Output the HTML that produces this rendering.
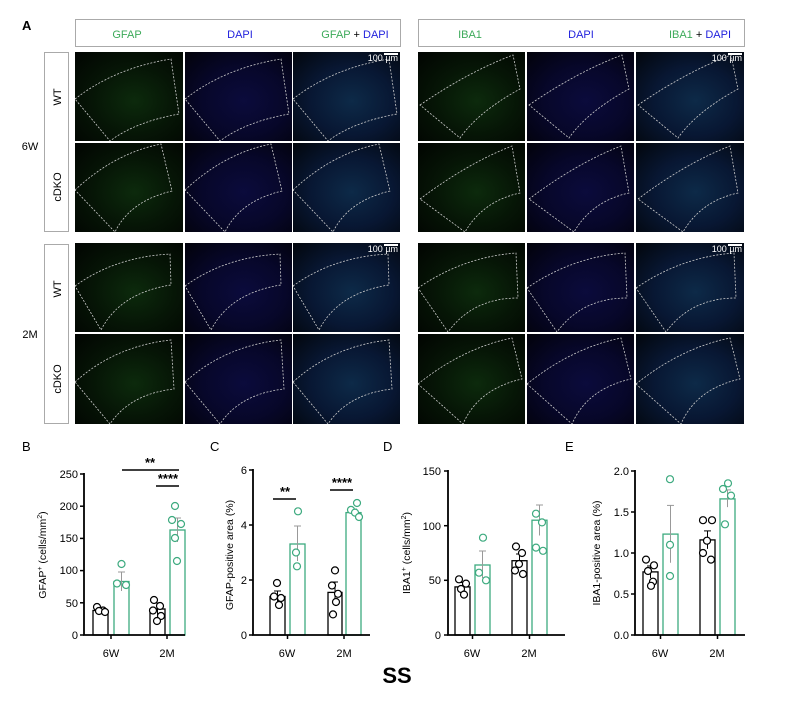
<!DOCTYPE html>
<html><head><meta charset="utf-8"><style>
body{margin:0;background:#fff;width:799px;height:703px;overflow:hidden;font-family:"Liberation Sans",sans-serif;position:relative}
.c{position:absolute;overflow:hidden}
.g{background:radial-gradient(ellipse at 55% 55%,#0c2a0c 0%,#061506 50%,#010401 100%)}
.b{background:radial-gradient(ellipse at 55% 55%,#0b0b3c 0%,#07072a 50%,#02020a 100%)}
.m{background:radial-gradient(ellipse at 55% 55%,#0d2a48 0%,#081733 50%,#02060c 100%)}
.c svg{position:absolute;left:0;top:0}
.sb{position:absolute;color:#fff;font-size:9px;right:2px;top:1px}
.sb:before{content:"";position:absolute;right:0;top:0;width:14px;height:2px;background:#fff}
</style></head><body>
<svg width="799" height="703" style="position:absolute;left:0;top:0" font-family="Liberation Sans, sans-serif">
<text x="22" y="30" font-size="13" font-weight="bold">A</text>
<rect x="75.5" y="19.5" width="325" height="27" fill="none" stroke="#aaa"/>
<rect x="418.5" y="19.5" width="326" height="27" fill="none" stroke="#aaa"/>
<text x="127" y="38" font-size="11" fill="#3daa5a" text-anchor="middle">GFAP</text>
<text x="240" y="38" font-size="11" fill="#2222dd" text-anchor="middle">DAPI</text>
<text x="355" y="38" font-size="11" text-anchor="middle"><tspan fill="#3daa5a">GFAP</tspan> + <tspan fill="#2222dd">DAPI</tspan></text>
<text x="470" y="38" font-size="11" fill="#3daa5a" text-anchor="middle">IBA1</text>
<text x="581" y="38" font-size="11" fill="#2222dd" text-anchor="middle">DAPI</text>
<text x="700" y="38" font-size="11" text-anchor="middle"><tspan fill="#3daa5a">IBA1</tspan> + <tspan fill="#2222dd">DAPI</tspan></text>
<rect x="44.5" y="52.5" width="24" height="179" fill="none" stroke="#aaa"/>
<rect x="44.5" y="244.5" width="24" height="179" fill="none" stroke="#aaa"/>
<text x="30" y="150" font-size="11" text-anchor="middle">6W</text>
<text x="30" y="338" font-size="11" text-anchor="middle">2M</text>
<text transform="translate(61,97) rotate(-90)" font-size="11" text-anchor="middle">WT</text>
<text transform="translate(61,187) rotate(-90)" font-size="11" text-anchor="middle">cDKO</text>
<text transform="translate(61,289) rotate(-90)" font-size="11" text-anchor="middle">WT</text>
<text transform="translate(61,379) rotate(-90)" font-size="11" text-anchor="middle">cDKO</text>

<g font-size="11">
<text x="22" y="451" font-size="13">B</text>
<text x="210" y="451" font-size="13">C</text>
<text x="383" y="451" font-size="13">D</text>
<text x="565" y="451" font-size="13">E</text>
</g>

<!-- B -->
<g font-size="11" stroke-linecap="butt">
<g fill="none" stroke="#000" stroke-width="1.3">
<rect x="93" y="610.5" width="15" height="24.5"/><rect x="150" y="609" width="15" height="26"/>
</g>
<g fill="none" stroke="#3daa7f" stroke-width="1.3">
<rect x="114" y="581.5" width="15" height="53.5"/><rect x="170" y="530" width="15" height="105"/>
</g>
<g stroke="#000" stroke-width="1"><line x1="100.5" y1="608" x2="100.5" y2="613"/><line x1="97" y1="608" x2="104" y2="608"/>
<line x1="157.5" y1="603" x2="157.5" y2="615"/><line x1="154" y1="603" x2="161" y2="603"/></g>
<g stroke="#999" stroke-width="1"><line x1="121.5" y1="572" x2="121.5" y2="591"/><line x1="118" y1="572" x2="125" y2="572"/>
<line x1="177.5" y1="518" x2="177.5" y2="542"/><line x1="174" y1="518" x2="181" y2="518"/></g>
<g fill="#fff" stroke="#000" stroke-width="1.2">
<circle cx="97" cy="607" r="3.5"/><circle cx="103" cy="610.5" r="3.5"/><circle cx="99" cy="611" r="3.5"/><circle cx="105" cy="612" r="3.5"/>
<circle cx="154" cy="600" r="3.5"/><circle cx="160" cy="606" r="3.5"/><circle cx="153" cy="610.5" r="3.5"/><circle cx="161" cy="616" r="3.5"/><circle cx="157" cy="621" r="3.5"/>
</g>
<g fill="#fff" stroke="#3daa7f" stroke-width="1.2">
<circle cx="121.5" cy="564" r="3.5"/><circle cx="117" cy="583.5" r="3.5"/><circle cx="126" cy="585" r="3.5"/>
<circle cx="175" cy="506" r="3.5"/><circle cx="172" cy="520" r="3.5"/><circle cx="181" cy="524" r="3.5"/><circle cx="175" cy="538" r="3.5"/><circle cx="177" cy="561" r="3.5"/>
</g>
<path d="M84,473 V635 H185" fill="none" stroke="#000" stroke-width="1.8"/>
<g stroke="#000" stroke-width="1.5"><line x1="80" y1="474" x2="84" y2="474"/><line x1="80" y1="506.2" x2="84" y2="506.2"/><line x1="80" y1="538.4" x2="84" y2="538.4"/><line x1="80" y1="570.6" x2="84" y2="570.6"/><line x1="80" y1="602.8" x2="84" y2="602.8"/><line x1="80" y1="635" x2="84" y2="635"/>
<line x1="111" y1="635" x2="111" y2="639"/><line x1="167" y1="635" x2="167" y2="639"/></g>
<g text-anchor="end"><text x="78" y="478">250</text><text x="78" y="510">200</text><text x="78" y="542">150</text><text x="78" y="574">100</text><text x="78" y="607">50</text><text x="78" y="639">0</text></g>
<text x="111" y="657" text-anchor="middle">6W</text><text x="167" y="657" text-anchor="middle">2M</text>
<text transform="translate(46,555) rotate(-90)" text-anchor="middle" font-size="10.5">GFAP<tspan dy="-4" font-size="7">+</tspan><tspan dy="4"> (cells/mm</tspan><tspan dy="-4" font-size="7">2</tspan><tspan dy="4">)</tspan></text>
<g stroke="#000" stroke-width="1.6"><line x1="122" y1="470" x2="179" y2="470"/><line x1="156" y1="486" x2="179" y2="486"/></g>
<text x="150" y="467" text-anchor="middle" font-size="13" font-weight="bold">**</text>
<text x="168" y="483" text-anchor="middle" font-size="13" font-weight="bold">****</text>
</g>

<!-- C -->
<g font-size="11">
<g fill="none" stroke="#000" stroke-width="1.3"><rect x="270" y="596.5" width="15" height="38.5"/><rect x="328" y="592.4" width="14" height="42.6"/></g>
<g fill="none" stroke="#3daa7f" stroke-width="1.3"><rect x="290" y="544" width="15" height="91"/><rect x="346" y="512.6" width="15" height="122.4"/></g>
<g stroke="#000"><line x1="277.5" y1="591" x2="277.5" y2="602"/><line x1="274" y1="591" x2="281" y2="591"/><line x1="335" y1="582" x2="335" y2="603"/><line x1="331" y1="582" x2="338" y2="582"/></g>
<g stroke="#999"><line x1="297.5" y1="526" x2="297.5" y2="561"/><line x1="294" y1="526" x2="301" y2="526"/><line x1="353.5" y1="509" x2="353.5" y2="516"/><line x1="350" y1="509" x2="357" y2="509"/></g>
<g fill="#fff" stroke="#000" stroke-width="1.2"><circle cx="277" cy="583" r="3.5"/><circle cx="274" cy="596.5" r="3.5"/><circle cx="281" cy="598" r="3.5"/><circle cx="279" cy="605" r="3.5"/>
<circle cx="335" cy="570.4" r="3.5"/><circle cx="332" cy="585.5" r="3.5"/><circle cx="338" cy="593.8" r="3.5"/><circle cx="336" cy="602" r="3.5"/><circle cx="333" cy="614.4" r="3.5"/></g>
<g fill="#fff" stroke="#3daa7f" stroke-width="1.2"><circle cx="298" cy="511.3" r="3.5"/><circle cx="296" cy="552.5" r="3.5"/><circle cx="297" cy="566.3" r="3.5"/>
<circle cx="357" cy="503" r="3.5"/><circle cx="351" cy="509.9" r="3.5"/><circle cx="355" cy="512.6" r="3.5"/><circle cx="359" cy="517" r="3.5"/></g>
<path d="M253,469 V635 H370" fill="none" stroke="#000" stroke-width="1.8"/>
<g stroke="#000" stroke-width="1.5"><line x1="249" y1="470" x2="253" y2="470"/><line x1="249" y1="525" x2="253" y2="525"/><line x1="249" y1="580" x2="253" y2="580"/><line x1="249" y1="635" x2="253" y2="635"/><line x1="287.5" y1="635" x2="287.5" y2="639"/><line x1="344" y1="635" x2="344" y2="639"/></g>
<g text-anchor="end"><text x="247" y="474">6</text><text x="247" y="529">4</text><text x="247" y="584">2</text><text x="247" y="639">0</text></g>
<text x="287" y="657" text-anchor="middle">6W</text><text x="344" y="657" text-anchor="middle">2M</text>
<text transform="translate(233,555) rotate(-90)" text-anchor="middle" font-size="10.5">GFAP-positive area (%)</text>
<g stroke="#000" stroke-width="1.6"><line x1="273" y1="499" x2="296" y2="499"/><line x1="330" y1="490" x2="353" y2="490"/></g>
<text x="285" y="496" text-anchor="middle" font-size="13" font-weight="bold">**</text>
<text x="342" y="487" text-anchor="middle" font-size="13" font-weight="bold">****</text>
</g>

<!-- D -->
<g font-size="11">
<g fill="none" stroke="#000" stroke-width="1.3"><rect x="455" y="586.9" width="15" height="48.1"/><rect x="512" y="560.7" width="15" height="74.3"/></g>
<g fill="none" stroke="#3daa7f" stroke-width="1.3"><rect x="475" y="565" width="15" height="70"/><rect x="532" y="520.2" width="15" height="114.8"/></g>
<g stroke="#000"><line x1="462.5" y1="582.5" x2="462.5" y2="591"/><line x1="459" y1="582.5" x2="466" y2="582.5"/><line x1="519.5" y1="554" x2="519.5" y2="567"/><line x1="516" y1="554" x2="523" y2="554"/></g>
<g stroke="#999"><line x1="482.5" y1="551" x2="482.5" y2="578"/><line x1="479" y1="551" x2="486" y2="551"/><line x1="539.5" y1="505" x2="539.5" y2="535.5"/><line x1="536" y1="505" x2="543" y2="505"/></g>
<g fill="#fff" stroke="#000" stroke-width="1.2"><circle cx="459" cy="579.3" r="3.5"/><circle cx="466" cy="583.6" r="3.5"/><circle cx="461" cy="589" r="3.5"/><circle cx="464" cy="594.6" r="3.5"/>
<circle cx="516" cy="546.5" r="3.5"/><circle cx="522" cy="553" r="3.5"/><circle cx="519" cy="564" r="3.5"/><circle cx="515" cy="570.5" r="3.5"/><circle cx="523" cy="574" r="3.5"/></g>
<g fill="#fff" stroke="#3daa7f" stroke-width="1.2"><circle cx="483" cy="537.7" r="3.5"/><circle cx="479" cy="572.7" r="3.5"/><circle cx="486" cy="580.3" r="3.5"/>
<circle cx="536" cy="513.7" r="3.5"/><circle cx="542" cy="522.4" r="3.5"/><circle cx="536" cy="547.6" r="3.5"/><circle cx="543" cy="550.8" r="3.5"/></g>
<path d="M448,470 V635 H565" fill="none" stroke="#000" stroke-width="1.8"/>
<g stroke="#000" stroke-width="1.5"><line x1="444" y1="471" x2="448" y2="471"/><line x1="444" y1="525.7" x2="448" y2="525.7"/><line x1="444" y1="580.3" x2="448" y2="580.3"/><line x1="444" y1="635" x2="448" y2="635"/><line x1="472.5" y1="635" x2="472.5" y2="639"/><line x1="529.5" y1="635" x2="529.5" y2="639"/></g>
<g text-anchor="end"><text x="441" y="475">150</text><text x="441" y="530">100</text><text x="441" y="584">50</text><text x="441" y="639">0</text></g>
<text x="472" y="657" text-anchor="middle">6W</text><text x="529" y="657" text-anchor="middle">2M</text>
<text transform="translate(410,553) rotate(-90)" text-anchor="middle" font-size="10.5">IBA1<tspan dy="-4" font-size="7">+</tspan><tspan dy="4"> (cells/mm</tspan><tspan dy="-4" font-size="7">2</tspan><tspan dy="4">)</tspan></text>
</g>

<!-- E -->
<g font-size="11">
<g fill="none" stroke="#000" stroke-width="1.3"><rect x="643" y="571.9" width="15" height="63.1"/><rect x="700" y="539.9" width="15" height="95.1"/></g>
<g fill="none" stroke="#3daa7f" stroke-width="1.3"><rect x="663" y="534.1" width="15" height="100.9"/><rect x="720" y="498.9" width="15" height="136.1"/></g>
<g stroke="#000"><line x1="650.5" y1="566" x2="650.5" y2="578"/><line x1="647" y1="566" x2="654" y2="566"/><line x1="707.5" y1="530.9" x2="707.5" y2="548.9"/><line x1="704" y1="530.9" x2="711" y2="530.9"/></g>
<g stroke="#999"><line x1="670.5" y1="505.4" x2="670.5" y2="562.8"/><line x1="667" y1="505.4" x2="674" y2="505.4"/><line x1="727.5" y1="489.9" x2="727.5" y2="507.1"/><line x1="724" y1="489.9" x2="731" y2="489.9"/></g>
<g fill="#fff" stroke="#000" stroke-width="1.2"><circle cx="646" cy="559.6" r="3.5"/><circle cx="654" cy="565.3" r="3.5"/><circle cx="648" cy="571" r="3.5"/><circle cx="653" cy="581.7" r="3.5"/><circle cx="651" cy="585.8" r="3.5"/>
<circle cx="703" cy="520.2" r="3.5"/><circle cx="712" cy="520.2" r="3.5"/><circle cx="707" cy="540.7" r="3.5"/><circle cx="703" cy="553" r="3.5"/><circle cx="711" cy="559.6" r="3.5"/></g>
<g fill="#fff" stroke="#3daa7f" stroke-width="1.2"><circle cx="670" cy="479.2" r="3.5"/><circle cx="670" cy="544.8" r="3.5"/><circle cx="670" cy="576" r="3.5"/>
<circle cx="728" cy="483.3" r="3.5"/><circle cx="723" cy="489" r="3.5"/><circle cx="731" cy="495.6" r="3.5"/><circle cx="725" cy="524.3" r="3.5"/></g>
<path d="M635,470 V635 H745" fill="none" stroke="#000" stroke-width="1.8"/>
<g stroke="#000" stroke-width="1.5"><line x1="631" y1="471" x2="635" y2="471"/><line x1="631" y1="512" x2="635" y2="512"/><line x1="631" y1="553" x2="635" y2="553"/><line x1="631" y1="594" x2="635" y2="594"/><line x1="631" y1="635" x2="635" y2="635"/><line x1="660.5" y1="635" x2="660.5" y2="639"/><line x1="717.5" y1="635" x2="717.5" y2="639"/></g>
<g text-anchor="end"><text x="629" y="475">2.0</text><text x="629" y="516">1.5</text><text x="629" y="557">1.0</text><text x="629" y="598">0.5</text><text x="629" y="639">0.0</text></g>
<text x="660" y="657" text-anchor="middle">6W</text><text x="717" y="657" text-anchor="middle">2M</text>
<text transform="translate(600,553) rotate(-90)" text-anchor="middle" font-size="10.5">IBA1-positive area (%)</text>
</g>
<text x="397" y="683" font-size="22" font-weight="bold" text-anchor="middle">SS</text>
</svg>

<!-- image cells -->
<div class="c g" style="left:75px;top:52px;width:108px;height:89px"><svg width="108" height="89"><path d="M0,47 Q40,16 96,7 L104,62 Q60,70 35,89 Z" fill="none" stroke="#ccc" stroke-width=".8" stroke-dasharray="2,1.5"/></svg></div>
<div class="c b" style="left:185px;top:52px;width:107px;height:89px"><svg width="107" height="89"><path d="M0,47 Q40,16 96,7 L104,62 Q60,70 35,89 Z" fill="none" stroke="#ccc" stroke-width=".8" stroke-dasharray="2,1.5"/></svg></div>
<div class="c m" style="left:293px;top:52px;width:107px;height:89px"><svg width="107" height="89"><path d="M0,47 Q40,16 96,7 L104,62 Q60,70 35,89 Z" fill="none" stroke="#ccc" stroke-width=".8" stroke-dasharray="2,1.5"/></svg><span class="sb">100 µm</span></div>
<div class="c g" style="left:75px;top:143px;width:108px;height:89px"><svg width="108" height="89"><path d="M0,47 Q40,10 86,1 L97,48 Q55,58 40,89 Z" fill="none" stroke="#ccc" stroke-width=".8" stroke-dasharray="2,1.5"/></svg></div>
<div class="c b" style="left:185px;top:143px;width:107px;height:89px"><svg width="107" height="89"><path d="M0,47 Q40,10 86,1 L97,48 Q55,58 40,89 Z" fill="none" stroke="#ccc" stroke-width=".8" stroke-dasharray="2,1.5"/></svg></div>
<div class="c m" style="left:293px;top:143px;width:107px;height:89px"><svg width="107" height="89"><path d="M0,47 Q40,10 86,1 L97,48 Q55,58 40,89 Z" fill="none" stroke="#ccc" stroke-width=".8" stroke-dasharray="2,1.5"/></svg></div>

<div class="c g" style="left:75px;top:243px;width:108px;height:89px"><svg width="108" height="89"><path d="M0,43 Q40,14 95,11 L96,42 Q45,50 26,87 Z" fill="none" stroke="#ccc" stroke-width=".8" stroke-dasharray="2,1.5"/></svg></div>
<div class="c b" style="left:185px;top:243px;width:107px;height:89px"><svg width="107" height="89"><path d="M0,43 Q40,14 95,11 L96,42 Q45,50 26,87 Z" fill="none" stroke="#ccc" stroke-width=".8" stroke-dasharray="2,1.5"/></svg></div>
<div class="c m" style="left:293px;top:243px;width:107px;height:89px"><svg width="107" height="89"><path d="M0,43 Q40,14 95,11 L96,42 Q45,50 26,87 Z" fill="none" stroke="#ccc" stroke-width=".8" stroke-dasharray="2,1.5"/></svg><span class="sb">100 µm</span></div>
<div class="c g" style="left:75px;top:334px;width:108px;height:90px"><svg width="108" height="90"><path d="M0,48 Q40,12 96,6 L99,55 Q55,60 35,90 Z" fill="none" stroke="#ccc" stroke-width=".8" stroke-dasharray="2,1.5"/></svg></div>
<div class="c b" style="left:185px;top:334px;width:107px;height:90px"><svg width="107" height="90"><path d="M0,48 Q40,12 96,6 L99,55 Q55,60 35,90 Z" fill="none" stroke="#ccc" stroke-width=".8" stroke-dasharray="2,1.5"/></svg></div>
<div class="c m" style="left:293px;top:334px;width:107px;height:90px"><svg width="107" height="90"><path d="M0,48 Q40,12 96,6 L99,55 Q55,60 35,90 Z" fill="none" stroke="#ccc" stroke-width=".8" stroke-dasharray="2,1.5"/></svg></div>

<div class="c g" style="left:418px;top:52px;width:107px;height:89px"><svg width="107" height="89"><path d="M2,53 Q50,20 95,3 L102,37 Q60,60 42,86 Z" fill="none" stroke="#ccc" stroke-width=".8" stroke-dasharray="2,1.5"/></svg></div>
<div class="c b" style="left:527px;top:52px;width:107px;height:89px"><svg width="107" height="89"><path d="M2,53 Q50,20 95,3 L102,37 Q60,60 42,86 Z" fill="none" stroke="#ccc" stroke-width=".8" stroke-dasharray="2,1.5"/></svg></div>
<div class="c m" style="left:636px;top:52px;width:108px;height:89px"><svg width="108" height="89"><path d="M2,53 Q50,20 95,3 L102,37 Q60,60 42,86 Z" fill="none" stroke="#ccc" stroke-width=".8" stroke-dasharray="2,1.5"/></svg><span class="sb">100 µm</span></div>
<div class="c g" style="left:418px;top:143px;width:107px;height:89px"><svg width="107" height="89"><path d="M2,56 Q50,20 94,3 L102,50 Q65,58 47,89 Z" fill="none" stroke="#ccc" stroke-width=".8" stroke-dasharray="2,1.5"/></svg></div>
<div class="c b" style="left:527px;top:143px;width:107px;height:89px"><svg width="107" height="89"><path d="M2,56 Q50,20 94,3 L102,50 Q65,58 47,89 Z" fill="none" stroke="#ccc" stroke-width=".8" stroke-dasharray="2,1.5"/></svg></div>
<div class="c m" style="left:636px;top:143px;width:108px;height:89px"><svg width="108" height="89"><path d="M2,56 Q50,20 94,3 L102,50 Q65,58 47,89 Z" fill="none" stroke="#ccc" stroke-width=".8" stroke-dasharray="2,1.5"/></svg></div>

<div class="c g" style="left:418px;top:243px;width:107px;height:89px"><svg width="107" height="89"><path d="M0,45 Q45,14 98,10 L100,55 Q55,55 30,89 Z" fill="none" stroke="#ccc" stroke-width=".8" stroke-dasharray="2,1.5"/></svg></div>
<div class="c b" style="left:527px;top:243px;width:107px;height:89px"><svg width="107" height="89"><path d="M0,45 Q45,14 98,10 L100,55 Q55,55 30,89 Z" fill="none" stroke="#ccc" stroke-width=".8" stroke-dasharray="2,1.5"/></svg></div>
<div class="c m" style="left:636px;top:243px;width:108px;height:89px"><svg width="108" height="89"><path d="M0,45 Q45,14 98,10 L100,55 Q55,55 30,89 Z" fill="none" stroke="#ccc" stroke-width=".8" stroke-dasharray="2,1.5"/></svg><span class="sb">100 µm</span></div>
<div class="c g" style="left:418px;top:334px;width:107px;height:90px"><svg width="107" height="90"><path d="M0,50 Q45,14 94,4 L104,45 Q60,55 45,90 Z" fill="none" stroke="#ccc" stroke-width=".8" stroke-dasharray="2,1.5"/></svg></div>
<div class="c b" style="left:527px;top:334px;width:107px;height:90px"><svg width="107" height="90"><path d="M0,50 Q45,14 94,4 L104,45 Q60,55 45,90 Z" fill="none" stroke="#ccc" stroke-width=".8" stroke-dasharray="2,1.5"/></svg></div>
<div class="c m" style="left:636px;top:334px;width:108px;height:90px"><svg width="108" height="90"><path d="M0,50 Q45,14 94,4 L104,45 Q60,55 45,90 Z" fill="none" stroke="#ccc" stroke-width=".8" stroke-dasharray="2,1.5"/></svg></div>
</body></html>
